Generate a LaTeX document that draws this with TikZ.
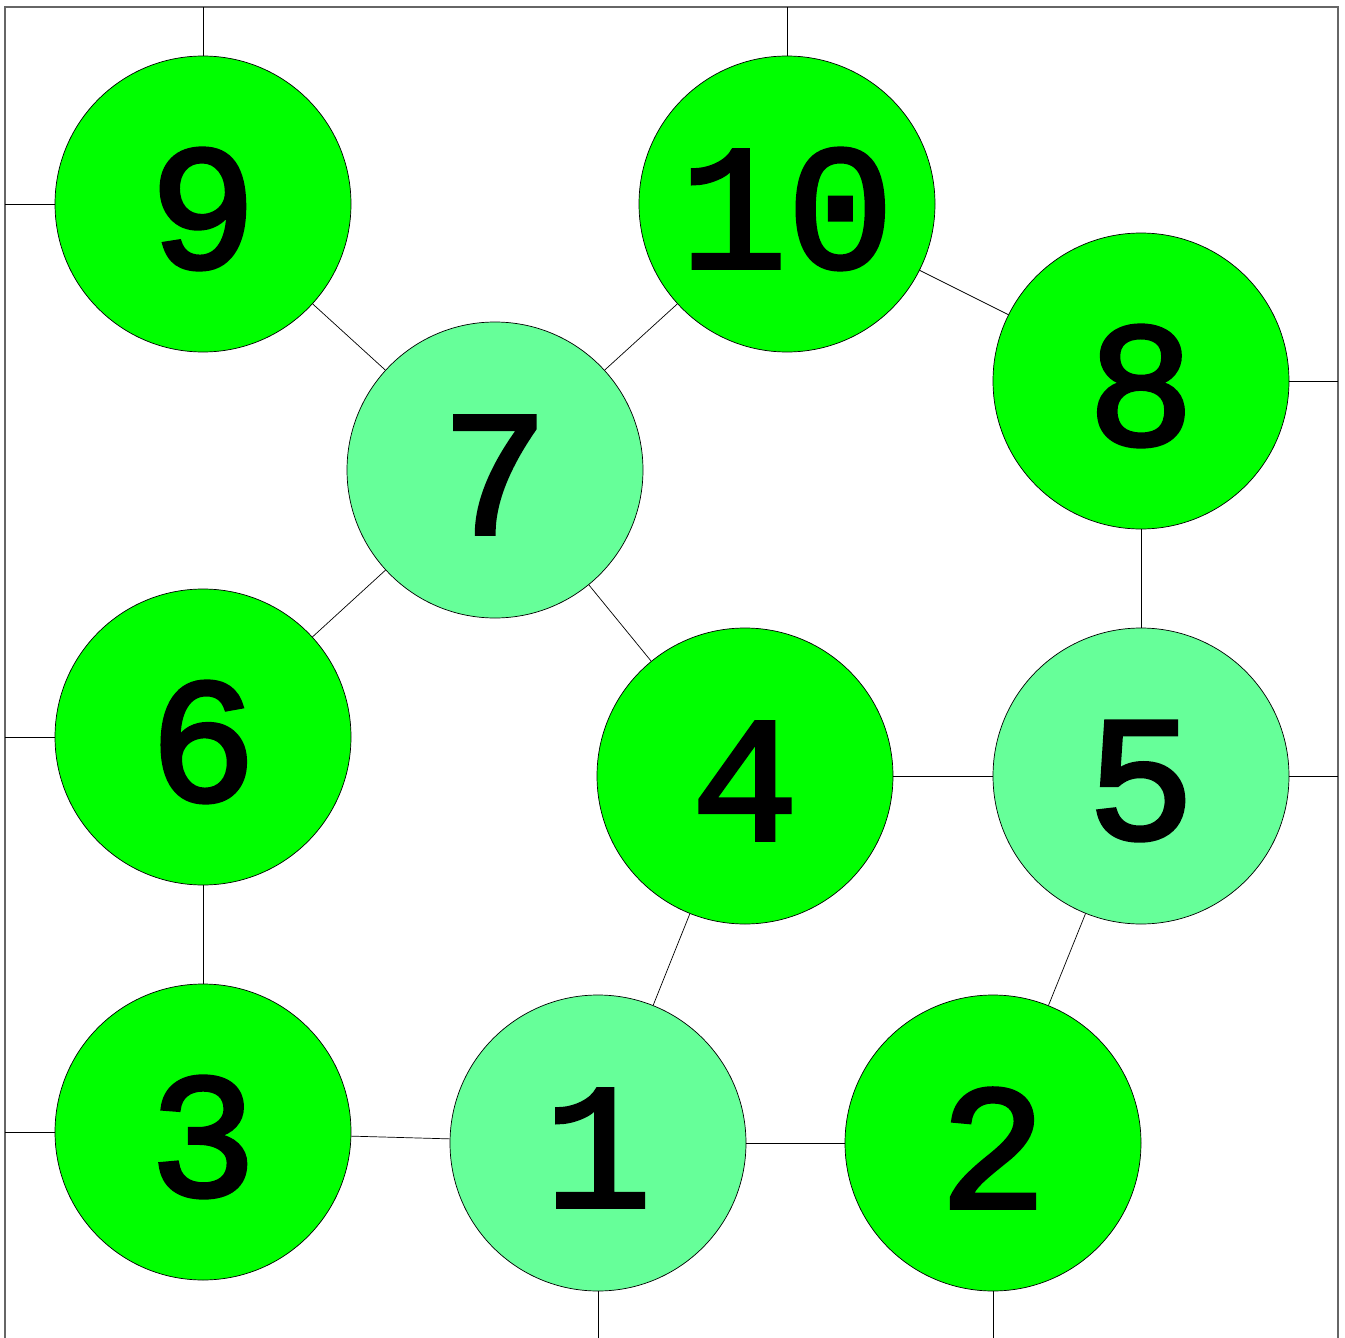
\documentclass[tikz,border=0pt]{standalone}
\usepackage{fontspec}
\newfontfamily\numfont[FakeBold=2.5]{Liberation Mono}
\definecolor{darkg}{RGB}{0,255,0}
\definecolor{lightg}{RGB}{102,255,153}
\tikzset{
  vtx/.style={circle, draw=black, line width=0.7pt, inner sep=0pt, minimum size=296pt},
  vdark/.style={vtx, fill=darkg},
  vlight/.style={vtx, fill=lightg},
  numlabel/.style={font=\numfont\fontsize{178}{178}\selectfont, inner sep=0pt, anchor=center},
  edge/.style={draw=black, line width=0.7pt},
  frame/.style={draw=black!60, line width=1.3pt}
}
\begin{document}
\begin{tikzpicture}[x=1pt,y=-1pt]
\useasboundingbox (0,0) rectangle (1345,1338);
\draw[frame] (5,1345) -- (5,7) -- (1338,7) -- (1338,1345);
% border coordinates
\coordinate (b9t) at (203,7);
\coordinate (b9l) at (5,204);
\coordinate (b10t) at (787,7);
\coordinate (b8r) at (1338,381);
\coordinate (b6l) at (5,737);
\coordinate (b5r) at (1338,776);
\coordinate (b3l) at (5,1132);
\coordinate (b1b) at (598,1345);
\coordinate (b2b) at (993,1345);
% nodes
\node[vdark]  (n9)  at (203,204)  {};
\node[vdark]  (n10) at (787,204)  {};
\node[vdark]  (n8)  at (1141,381) {};
\node[vlight] (n7)  at (495,470)  {};
\node[vdark]  (n6)  at (203,737)  {};
\node[vdark]  (n4)  at (745,776)  {};
\node[vlight] (n5)  at (1141,776) {};
\node[vdark]  (n3)  at (203,1132) {};
\node[vlight] (n1)  at (598,1143) {};
\node[vdark]  (n2)  at (993,1143) {};
% edges
\draw[edge] (n9) -- (b9t);
\draw[edge] (n9) -- (b9l);
\draw[edge] (n10) -- (b10t);
\draw[edge] (n8) -- (b8r);
\draw[edge] (n6) -- (b6l);
\draw[edge] (n5) -- (b5r);
\draw[edge] (n3) -- (b3l);
\draw[edge] (n1) -- (b1b);
\draw[edge] (n2) -- (b2b);
\draw[edge] (n9) -- (n7);
\draw[edge] (n10) -- (n7);
\draw[edge] (n10) -- (n8);
\draw[edge] (n7) -- (n6);
\draw[edge] (n7) -- (n4);
\draw[edge] (n8) -- (n5);
\draw[edge] (n4) -- (n5);
\draw[edge] (n6) -- (n3);
\draw[edge] (n3) -- (n1);
\draw[edge] (n1) -- (n2);
\draw[edge] (n1) -- (n4);
\draw[edge] (n2) -- (n5);
% labels
\foreach \n/\t in {n9/9,n10/10,n8/8,n7/7,n6/6,n4/4,n5/5,n3/3,n1/1,n2/2}{
  \node[numlabel] (t\n) at ([yshift=-5pt]\n.center) {\t};
}
\end{tikzpicture}
\end{document}
